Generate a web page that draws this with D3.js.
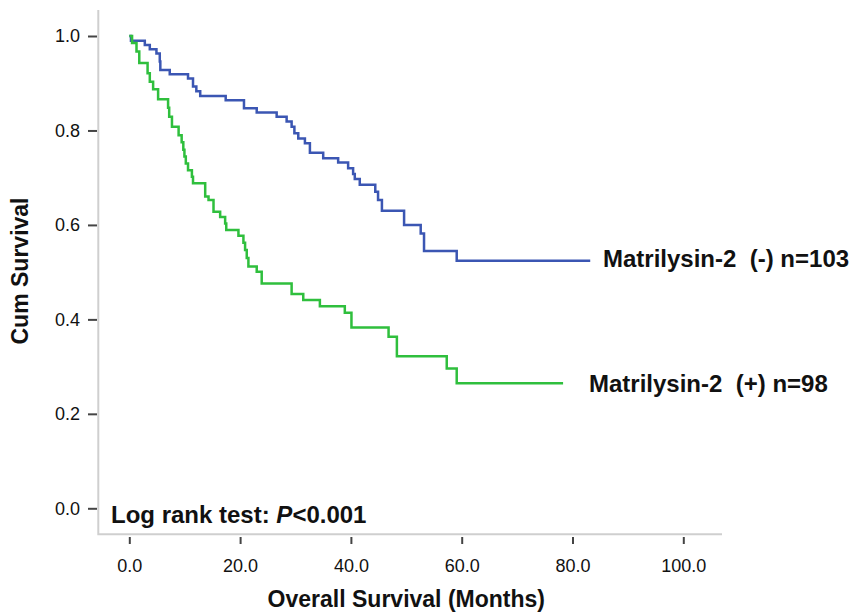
<!DOCTYPE html>
<html>
<head>
<meta charset="utf-8">
<script src="https://cdn.jsdelivr.net/npm/d3@7"></script>
<style>
  html, body { margin: 0; padding: 0; background: #fff; }
  svg { display: block; font-family: "Liberation Sans", Arial, sans-serif; }
  .tick text { font-size: 18px; fill: #111; }
  .tick line { stroke: #444; stroke-width: 2; }
  .lbl { font-weight: bold; fill: #111; white-space: pre; }
</style>
</head>
<body>
<div id="chart"></div>
<script>
// Kaplan–Meier curves.
// Each time is where the step drops; the survival value is the level after it.
const negTime = [0, 0.3, 2.8, 3.7, 4.9, 5.5, 5.6, 7.3, 10.6, 11.5, 12.1, 12.8, 17.4, 20.7, 23.0,
  26.6, 28.4, 29.3, 29.8, 30.5, 31.7, 32.6, 35.0, 37.7, 39.5, 40.4, 40.7, 41.6, 44.4, 44.9, 45.6,
  49.6, 52.6, 53.2, 59.1];
const negSurv = [1.0, 0.990, 0.981, 0.972, 0.963, 0.946, 0.928, 0.919, 0.910, 0.893, 0.883, 0.873,
  0.864, 0.847, 0.838, 0.829, 0.819, 0.808, 0.794, 0.783, 0.773, 0.753, 0.741, 0.732, 0.720, 0.708,
  0.697, 0.685, 0.670, 0.653, 0.630, 0.600, 0.582, 0.545, 0.524];
const negEnd = 83.2;

const posTime = [0, 0.5, 1.3, 1.8, 3.3, 3.7, 4.3, 5.2, 7.0, 7.2, 7.7, 8.9, 9.45, 9.75, 9.95, 10.2,
  10.6, 11.3, 11.5, 13.7, 14.3, 15.2, 16.4, 17.3, 17.5, 19.7, 20.6, 20.9, 21.2, 21.5, 23.0, 23.9,
  29.3, 31.4, 34.4, 38.9, 40.1, 46.8, 48.3, 57.3, 59.1];
const posSurv = [1.0, 0.985, 0.967, 0.943, 0.921, 0.903, 0.887, 0.866, 0.848, 0.829, 0.808, 0.790,
  0.775, 0.759, 0.745, 0.730, 0.716, 0.702, 0.688, 0.660, 0.653, 0.628, 0.617, 0.603, 0.589, 0.577,
  0.562, 0.547, 0.530, 0.512, 0.501, 0.476, 0.454, 0.441, 0.428, 0.414, 0.383, 0.363, 0.322, 0.296,
  0.265];
const posEnd = 78.3;

const xTicks = [0, 20, 40, 60, 80, 100];
const yTicks = [0, 0.2, 0.4, 0.6, 0.8, 1.0];

const negLabel = "Matrilysin-2  (-) n=103";
const posLabel = "Matrilysin-2  (+) n=98";
const xTitle = "Overall Survival (Months)";
const yTitle = "Cum Survival";

const W = 862, H = 613;
const x = d3.scaleLinear().domain([0, 100]).range([129.3, 683.3]);
const y = d3.scaleLinear().domain([0, 1]).range([508.3, 36]);

const svg = d3.select("#chart").append("svg")
  .attr("width", W).attr("height", H).attr("viewBox", `0 0 ${W} ${H}`);

// light grey frame (left + bottom only), as in the SPSS output
svg.append("path")
  .attr("d", "M98.3,10V534.3H722")
  .attr("fill", "none").attr("stroke", "#cfcfcf").attr("stroke-width", 2);

const yAxis = svg.append("g")
  .attr("transform", "translate(97,0)")
  .call(d3.axisLeft(y).tickValues(yTicks).tickFormat(d3.format(".1f"))
    .tickSize(9).tickPadding(8));
yAxis.select(".domain").remove();

const xAxis = svg.append("g")
  .attr("transform", "translate(0,537)")
  .call(d3.axisBottom(x).tickValues(xTicks).tickFormat(d3.format(".1f"))
    .tickSize(7).tickPadding(15));
xAxis.select(".domain").remove();
svg.selectAll(".tick text").attr("font-family", null).attr("font-size", null);

// step curves
const step = d3.line().curve(d3.curveStepAfter)
  .x((d) => x(d[0])).y((d) => y(d[1]));

function series(times, surv, end) {
  const pts = times.map((t, i) => [t, surv[i]]);
  pts.push([end, surv[surv.length - 1]]);
  return pts;
}

svg.append("path")
  .attr("d", step(series(negTime, negSurv, negEnd)))
  .attr("fill", "none").attr("stroke", "#3b56b3").attr("stroke-width", 2.5);

svg.append("path")
  .attr("d", step(series(posTime, posSurv, posEnd)))
  .attr("fill", "none").attr("stroke", "#2fbf3d").attr("stroke-width", 2.5);

// labels
svg.append("text").attr("class", "lbl")
  .attr("x", 603).attr("y", 267.3).attr("font-size", 24).text(negLabel);
svg.append("text").attr("class", "lbl")
  .attr("x", 589).attr("y", 391.7).attr("font-size", 24).text(posLabel);

const lr = svg.append("text").attr("class", "lbl")
  .attr("x", 111).attr("y", 523).attr("font-size", 24);
lr.append("tspan").text("Log rank test: ");
lr.append("tspan").attr("font-style", "italic").text("P");
lr.append("tspan").text("<0.001");

svg.append("text").attr("class", "lbl")
  .attr("x", (x(0) + x(100)) / 2).attr("y", 606.5).attr("text-anchor", "middle")
  .attr("font-size", 23).text(xTitle);

svg.append("text").attr("class", "lbl")
  .attr("transform", "translate(28,271) rotate(-90)")
  .attr("text-anchor", "middle").attr("font-size", 23).text(yTitle);
</script>
</body>
</html>
